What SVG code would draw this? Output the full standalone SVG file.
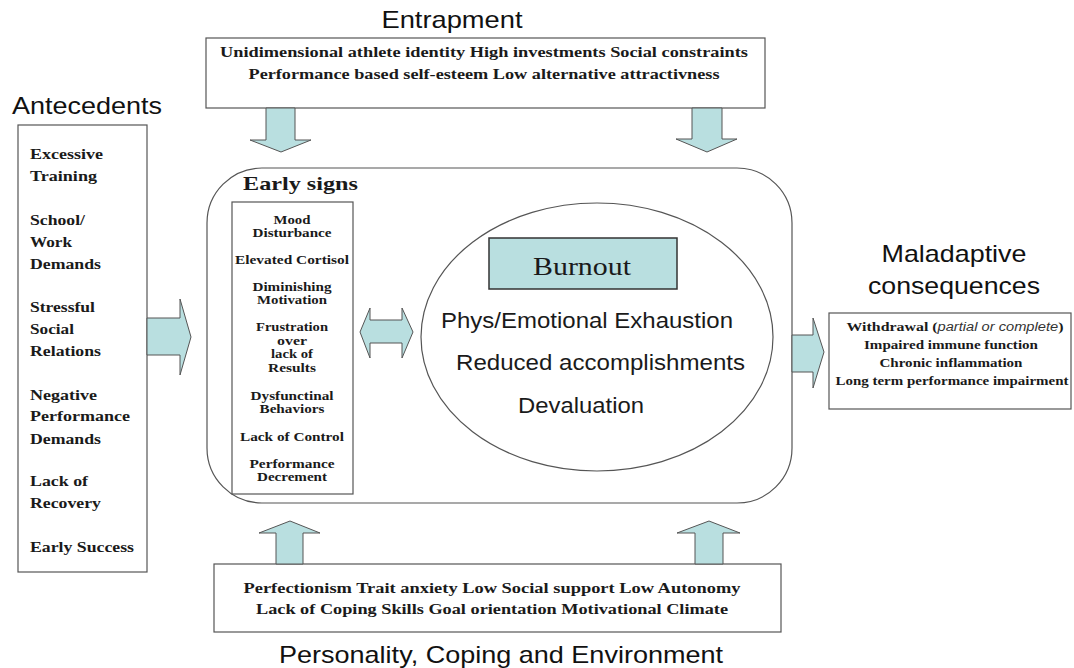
<svg xmlns="http://www.w3.org/2000/svg" width="1074" height="668" viewBox="0 0 1074 668">
  <style>
    .title { font-family: "Liberation Sans", Arial, sans-serif; font-size: 24px; fill: #111; }
    .item { font-family: "Liberation Serif", "Times New Roman", serif; font-weight: bold; fill: #1a1a1a; }
    .sans { font-family: "Liberation Sans", Arial, sans-serif; font-size: 22px; fill: #1a1a1a; }
    .box { fill: #fff; stroke: #555; stroke-width: 1.2; }
    .arrow { fill: #b9dfe0; stroke: #555; stroke-width: 1; }
  </style>
  <rect width="1074" height="668" fill="#fff"/>

  <!-- Entrapment -->
  <g id="entrapment">
    <text class="title" x="452" y="28" text-anchor="middle" textLength="141" lengthAdjust="spacingAndGlyphs">Entrapment</text>
    <rect class="box" x="206" y="38" width="559" height="70"/>
    <text class="item" font-size="15.5" x="484" y="57" text-anchor="middle" textLength="528" lengthAdjust="spacingAndGlyphs">Unidimensional athlete identity  High investments Social constraints</text>
    <text class="item" font-size="15.5" x="484" y="79" text-anchor="middle" textLength="471" lengthAdjust="spacingAndGlyphs">Performance based self-esteem Low alternative attractivness</text>
  </g>

  <!-- Antecedents -->
  <g id="antecedents">
    <text class="title" x="12" y="114" textLength="150" lengthAdjust="spacingAndGlyphs">Antecedents</text>
    <rect class="box" x="18" y="125" width="129" height="447"/>
    <g class="item" font-size="15.5">
      <text x="30" y="159" textLength="73" lengthAdjust="spacingAndGlyphs">Excessive</text>
      <text x="30" y="181" textLength="67" lengthAdjust="spacingAndGlyphs">Training</text>
      <text x="30" y="225" textLength="55" lengthAdjust="spacingAndGlyphs">School/</text>
      <text x="30" y="247" textLength="42" lengthAdjust="spacingAndGlyphs">Work</text>
      <text x="30" y="269" textLength="71" lengthAdjust="spacingAndGlyphs">Demands</text>
      <text x="30" y="312" textLength="65" lengthAdjust="spacingAndGlyphs">Stressful</text>
      <text x="30" y="334" textLength="44" lengthAdjust="spacingAndGlyphs">Social</text>
      <text x="30" y="356" textLength="71" lengthAdjust="spacingAndGlyphs">Relations</text>
      <text x="30" y="400" textLength="67" lengthAdjust="spacingAndGlyphs">Negative</text>
      <text x="30" y="421" textLength="100" lengthAdjust="spacingAndGlyphs">Performance</text>
      <text x="30" y="444" textLength="71" lengthAdjust="spacingAndGlyphs">Demands</text>
      <text x="30" y="486" textLength="58" lengthAdjust="spacingAndGlyphs">Lack of</text>
      <text x="30" y="508" textLength="71" lengthAdjust="spacingAndGlyphs">Recovery</text>
      <text x="30" y="552" textLength="104" lengthAdjust="spacingAndGlyphs">Early Success</text>
    </g>
  </g>

  <!-- Central frame with early signs and burnout -->
  <g id="frame">
    <rect class="box" x="207" y="168" width="585" height="335" rx="55" ry="55"/>
  </g>

  <g id="early-signs">
    <text class="item" font-size="19" x="243" y="190" textLength="115" lengthAdjust="spacingAndGlyphs">Early signs</text>
    <rect class="box" x="232" y="202" width="121" height="292"/>
    <g class="item" font-size="13" text-anchor="middle">
      <text x="292" y="224" textLength="37" lengthAdjust="spacingAndGlyphs">Mood</text>
      <text x="292" y="237" textLength="79" lengthAdjust="spacingAndGlyphs">Disturbance</text>
      <text x="292" y="264" textLength="114" lengthAdjust="spacingAndGlyphs">Elevated Cortisol</text>
      <text x="292" y="291" textLength="79" lengthAdjust="spacingAndGlyphs">Diminishing</text>
      <text x="292" y="304" textLength="70" lengthAdjust="spacingAndGlyphs">Motivation</text>
      <text x="292" y="331" textLength="72" lengthAdjust="spacingAndGlyphs">Frustration</text>
      <text x="292" y="345" textLength="30" lengthAdjust="spacingAndGlyphs">over</text>
      <text x="292" y="358" textLength="42" lengthAdjust="spacingAndGlyphs">lack of</text>
      <text x="292" y="372" textLength="48" lengthAdjust="spacingAndGlyphs">Results</text>
      <text x="292" y="400" textLength="83" lengthAdjust="spacingAndGlyphs">Dysfunctinal</text>
      <text x="292" y="413" textLength="65" lengthAdjust="spacingAndGlyphs">Behaviors</text>
      <text x="292" y="441" textLength="104" lengthAdjust="spacingAndGlyphs">Lack of Control</text>
      <text x="292" y="468" textLength="85" lengthAdjust="spacingAndGlyphs">Performance</text>
      <text x="292" y="481" textLength="70" lengthAdjust="spacingAndGlyphs">Decrement</text>
    </g>
  </g>

  <g id="burnout">
    <ellipse class="box" cx="597" cy="337" rx="176" ry="134"/>
    <rect x="489" y="238" width="188" height="51" fill="#b9dfe0" stroke="#333" stroke-width="1.5"/>
    <text x="582" y="275" text-anchor="middle" font-family="Liberation Serif, 'Times New Roman', serif" font-size="26" fill="#1a1a1a" textLength="98" lengthAdjust="spacingAndGlyphs">Burnout</text>
    <text class="sans" x="441" y="328" textLength="292" lengthAdjust="spacingAndGlyphs">Phys/Emotional Exhaustion</text>
    <text class="sans" x="456" y="370" textLength="289" lengthAdjust="spacingAndGlyphs">Reduced accomplishments</text>
    <text class="sans" x="518" y="413" textLength="126" lengthAdjust="spacingAndGlyphs">Devaluation</text>
  </g>

  <!-- Maladaptive consequences -->
  <g id="consequences">
    <text class="title" x="954" y="262" text-anchor="middle" textLength="145" lengthAdjust="spacingAndGlyphs">Maladaptive</text>
    <text class="title" x="954" y="294" text-anchor="middle" textLength="172" lengthAdjust="spacingAndGlyphs">consequences</text>
    <rect class="box" x="829" y="313" width="242" height="96"/>
    <g class="item" font-size="13" text-anchor="middle">
      <text x="955" y="331" textLength="217" lengthAdjust="spacingAndGlyphs">Withdrawal (<tspan font-weight="normal" font-style="italic" font-family="Liberation Sans, Arial, sans-serif" font-size="12" fill="#333">partial or complete</tspan>)</text>
      <text x="951" y="349" textLength="174" lengthAdjust="spacingAndGlyphs">Impaired immune function</text>
      <text x="951" y="367" textLength="143" lengthAdjust="spacingAndGlyphs">Chronic inflammation</text>
      <text x="952" y="385" textLength="233" lengthAdjust="spacingAndGlyphs">Long term performance impairment</text>
    </g>
  </g>

  <!-- Personality, coping and environment -->
  <g id="personality">
    <rect class="box" x="214" y="564" width="567" height="68"/>
    <text class="item" font-size="15.5" x="492" y="593" text-anchor="middle" textLength="497" lengthAdjust="spacingAndGlyphs">Perfectionism Trait anxiety  Low Social support  Low Autonomy</text>
    <text class="item" font-size="15.5" x="492" y="614" text-anchor="middle" textLength="472" lengthAdjust="spacingAndGlyphs">Lack of Coping Skills  Goal orientation Motivational Climate</text>
    <text class="title" x="501" y="663" text-anchor="middle" textLength="444" lengthAdjust="spacingAndGlyphs">Personality, Coping and Environment</text>
  </g>

  <!-- Block arrows between the parts -->
  <g id="connectors">
    <!-- down from entrapment -->
    <path class="arrow" d="M266,108 H295 V140 H311 L281,152 L250,140 H266 Z"/>
    <path class="arrow" d="M692,108 H722 V139 H737 L707,152 L676,139 H692 Z"/>
    <!-- antecedents into frame -->
    <path class="arrow" d="M147,318 H180 V299 L191,337 L180,375 V355 H147 Z"/>
    <!-- early signs <-> burnout -->
    <path class="arrow" d="M360,332 L370,308 V320 H402 V308 L413,332 L402,358 V343 H370 V358 Z"/>
    <!-- frame to consequences -->
    <path class="arrow" d="M792,335 H813 V318 L824,352 L813,388 V372 H792 Z"/>
    <!-- up from personality -->
    <path class="arrow" d="M276,564 V533 H259 L290,521 L320,533 H303 V564 Z"/>
    <path class="arrow" d="M695,564 V533 H677 L709,521 L740,533 H723 V564 Z"/>
  </g>
</svg>
